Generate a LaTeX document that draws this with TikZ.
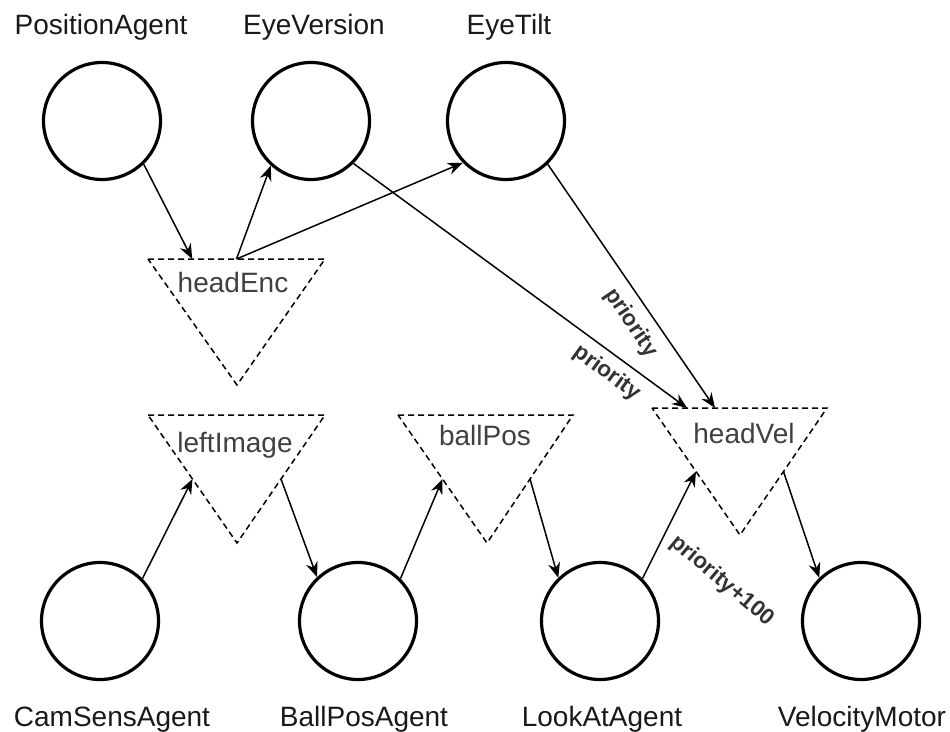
\documentclass[tikz,border=0pt]{standalone}
\usepackage{fontspec}
\setmainfont{Liberation Sans}
\usetikzlibrary{arrows.meta,calc}

% draws a dashed, downward-pointing triangle: name, top-left, top-right, apex
\newcommand\flowtri[4]{%
  \coordinate (#1-tl) at #2;
  \coordinate (#1-tr) at #3;
  \coordinate (#1-b) at #4;
  \draw[tribox] (#1-tl) -- (#1-tr) -- (#1-b) -- cycle;
}

\begin{document}
\begin{tikzpicture}[x=1pt,y=-1pt,
  agent/.style={circle,draw,line width=3.2pt,minimum size=117pt,inner sep=0pt},
  agentname/.style={font=\fontsize{28}{32}\selectfont,text=black!90,anchor=base,inner sep=0pt},
  tribox/.style={draw,line width=1.5pt,dash pattern=on 6pt off 4pt,line join=miter},
  trilabel/.style={font=\fontsize{28}{32}\selectfont,text=black!75,anchor=base,inner sep=0pt},
  link/.style={line width=1.5pt,-{Stealth[length=15pt,width=12pt]}},
  prio/.style={font=\bfseries\fontsize{22.5}{26}\selectfont,text=black!80,inner sep=0pt}
]
\useasboundingbox (0,0) rectangle (950,731);

% agents
\node[agent] (pos)   at (102,121) {};
\node[agent] (ever)  at (311,121) {};
\node[agent] (etilt) at (506,121) {};
\node[agent] (cam)   at (100,621) {};
\node[agent] (bpa)   at (358,621) {};
\node[agent] (look)  at (600,621) {};
\node[agent] (vel)   at (861,621) {};

% agent names
\node[agentname] (posL)   at (101,34)  {PositionAgent};
\node[agentname] (everL)  at (314,34)  {EyeVersion};
\node[agentname] (etiltL) at (509,34)  {EyeTilt};
\node[agentname] (camL)   at (112,726) {CamSensAgent};
\node[agentname] (bpaL)   at (364,726) {BallPosAgent};
\node[agentname] (lookL)  at (602,726) {LookAtAgent};
\node[agentname] (velL)   at (862,726) {VelocityMotor};

% data triangles
\flowtri{he}{(148,259)}{(325,259)}{(237,385)}
\flowtri{li}{(148,415)}{(325,415)}{(237,543)}
\flowtri{bp}{(398,415)}{(573,415)}{(487,543)}
\flowtri{hv}{(652,408)}{(827,408)}{(740,535)}
\node[trilabel] (heT) at (233,292) {headEnc};
\node[trilabel] (liT) at (235,452) {leftImage};
\node[trilabel] (bpT) at (485,445) {ballPos};
\node[trilabel] (hvT) at (744,443) {headVel};

% ports on the triangles
\coordinate (he-in)  at ($(he-tl)!0.25!(he-tr)$);
\coordinate (he-out) at ($(he-tl)!0.5!(he-tr)$);
\coordinate (li-in)  at ($(li-tl)!0.5!(li-b)$);
\coordinate (li-out) at ($(li-tr)!0.5!(li-b)$);
\coordinate (bp-in)  at ($(bp-tl)!0.5!(bp-b)$);
\coordinate (bp-out) at ($(bp-tr)!0.5!(bp-b)$);
\coordinate (hv-in1) at ($(hv-tl)!0.2!(hv-tr)$);
\coordinate (hv-in2) at ($(hv-tl)!0.36!(hv-tr)$);
\coordinate (hv-in3) at ($(hv-tl)!0.5!(hv-b)$);
\coordinate (hv-out) at ($(hv-tr)!0.5!(hv-b)$);

% connectors
\draw[link] (pos.-46)   -- (he-in);
\draw[link] (he-out)    -- (ever.-132);
\draw[link] (he-out)    -- (etilt.-136);
\draw[link] (ever.-45)  -- (hv-in1);
\draw[link] (etilt.-46) -- (hv-in2);
\draw[link] (cam.45)    -- (li-in);
\draw[link] (li-out)    -- (bpa.133);
\draw[link] (bpa.45)    -- (bp-in);
\draw[link] (bp-out)    -- (look.134);
\draw[link] (look.45)   -- (hv-in3);
\draw[link] (hv-out)    -- (vel.134);

% connector labels
\node[prio,rotate=-56] (p1) at (631,323) {priority};
\node[prio,rotate=-36] (p2) at (607,373) {priority};
\node[prio,rotate=-40] (p3) at (722,581) {priority+100};
\end{tikzpicture}
\end{document}
